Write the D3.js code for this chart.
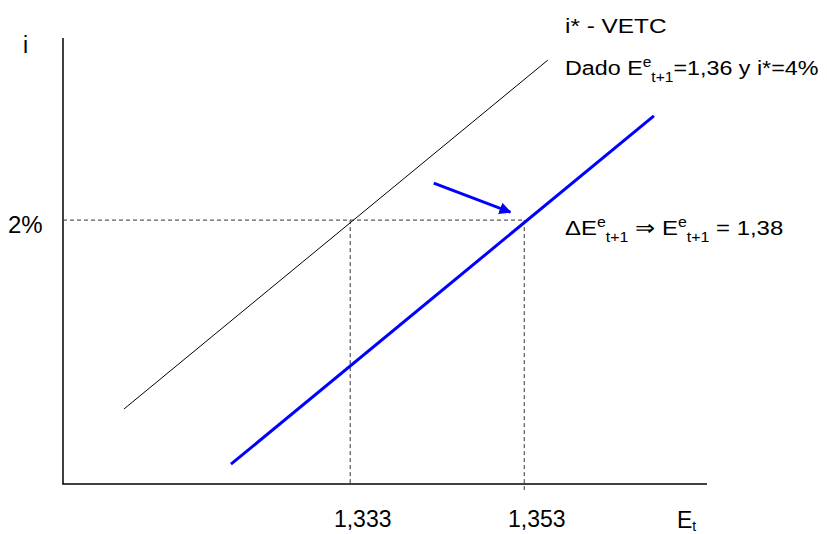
<!DOCTYPE html>
<html><head><meta charset="utf-8">
<script src="https://cdn.jsdelivr.net/npm/d3@7"></script>
<style>
body{margin:0;background:#fff;}
text{font-family:"Liberation Sans",Arial,sans-serif;fill:#000;}
</style></head>
<body><svg id="c" width="827" height="534"></svg>
<script>
// Data (E in level, i in %)
const xTicks = [1.333, 1.353];
const xTickLabels = ["1,333", "1,353"];
const yTicks = [2];
const yTickLabels = ["2%"];
const lineInitial = [{E:1.3070, i:0.568}, {E:1.3557, i:3.212}];   // i* - VETC (black)
const lineShifted = [{E:1.3193, i:0.15}, {E:1.3679, i:2.79}];     // after ΔE^e (blue)
const arrowPts = [{E:1.3426, i:2.28}, {E:1.3514, i:2.06}];
const eqPoints = [{E:1.333, i:2}, {E:1.353, i:2}];

const svg = d3.select("#c");
const x = d3.scaleLinear().domain([1.30, 1.374]).range([63, 707]);
const y = d3.scaleLinear().domain([0, 3.38]).range([484, 38]);

svg.append("defs").append("marker")
  .attr("id","ah").attr("viewBox","0 0 10 10").attr("refX",9).attr("refY",5)
  .attr("markerWidth",4).attr("markerHeight",4).attr("orient","auto")
  .append("path").attr("d","M0,0L10,5L0,10z").attr("fill","#0000ff");

// axes
svg.append("line").attr("x1",x(1.30)).attr("x2",x(1.30)).attr("y1",y(3.38)).attr("y2",y(0))
  .attr("stroke","#000").attr("stroke-width",1.5);
svg.append("line").attr("x1",x(1.30)-0.75).attr("x2",x(1.374)).attr("y1",y(0)).attr("y2",y(0))
  .attr("stroke","#000").attr("stroke-width",1.5);

function dline(x1,y1,x2,y2){
  svg.append("line").attr("x1",x1).attr("y1",y1).attr("x2",x2).attr("y2",y2)
    .attr("stroke","#333").attr("stroke-width",1).attr("stroke-dasharray","4,3");
}
// dashed guides
dline(x(1.30), y(2), x(eqPoints[1].E), y(2));
dline(x(eqPoints[0].E), y(2), x(eqPoints[0].E), y(0));
dline(x(eqPoints[1].E), y(2), x(eqPoints[1].E), y(-0.045));

const line = d3.line().x(d=>x(d.E)).y(d=>y(d.i));
svg.append("path").attr("d",line(lineInitial)).attr("fill","none").attr("stroke","#000").attr("stroke-width",1);
svg.append("path").attr("d",line(lineShifted)).attr("fill","none").attr("stroke","#0000ff").attr("stroke-width",3);
svg.append("path").attr("d",line(arrowPts)).attr("fill","none").attr("stroke","#0000ff").attr("stroke-width",3)
  .attr("marker-end","url(#ah)");

// tick labels
xTicks.forEach((v,k)=>{
  svg.append("text").attr("x",x(v)+12.5).attr("y",527).attr("text-anchor","middle")
    .attr("font-size",23).text(xTickLabels[k]);
});
yTicks.forEach((v,k)=>{
  svg.append("text").attr("x",8).attr("y",y(v)+13).attr("font-size",24).text(yTickLabels[k]);
});
svg.append("text").attr("x",23).attr("y",53).attr("font-size",23).text("i");
const et = svg.append("text").attr("x",677).attr("y",528).attr("font-size",23);
et.append("tspan").text("E");
et.append("tspan").attr("font-size",14).attr("dy",3).text("t");

// annotations (horizontally stretched like the reference)
function ann(tx, ty, sx){
  return svg.append("text").attr("transform",`translate(${tx},${ty}) scale(${sx},1)`).attr("font-size",21);
}
ann(565,33,1.16).text("i* - VETC");
const t2 = ann(565,75,1.11);
t2.append("tspan").text("Dado E");
t2.append("tspan").attr("font-size",14).attr("dy",-8).text("e");
t2.append("tspan").attr("font-size",14).attr("dy",15).text("t+1");
t2.append("tspan").attr("dy",-7).text("=1,36 y i*=4%");

const t3 = ann(565,235,1.14);
t3.append("tspan").text("ΔE");
t3.append("tspan").attr("font-size",14).attr("dy",-8).text("e");
t3.append("tspan").attr("font-size",14).attr("dy",15).text("t+1");
t3.append("tspan").attr("dy",-7).text(" ⇒ E");
t3.append("tspan").attr("font-size",14).attr("dy",-8).text("e");
t3.append("tspan").attr("font-size",14).attr("dy",15).text("t+1");
t3.append("tspan").attr("dy",-7).text(" = 1,38");
</script></body></html>
